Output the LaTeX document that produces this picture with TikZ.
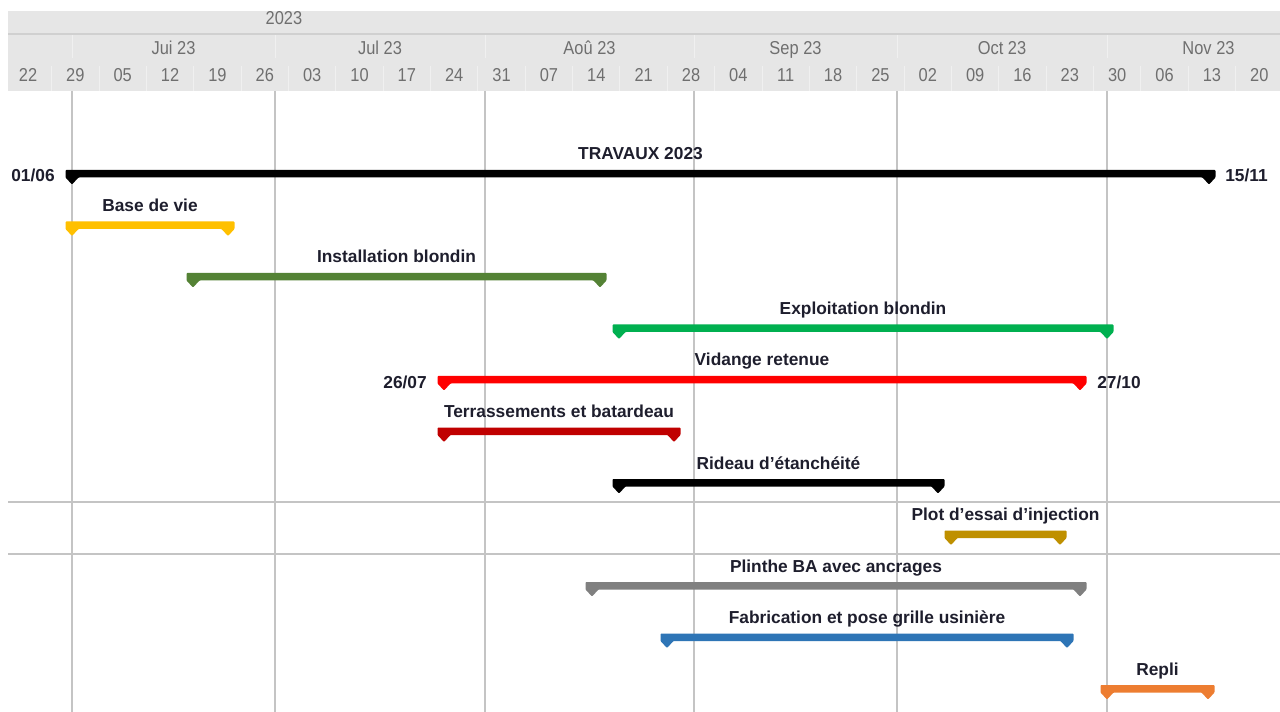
\documentclass[tikz,border=0pt]{standalone}
\usepackage{fontspec}
\setmainfont{Liberation Sans}
\newfontfamily\hdrfont[FakeStretch=0.88]{Liberation Sans}
\usetikzlibrary{calc}

\definecolor{hdrbg}{HTML}{E6E6E6}
\definecolor{hdrline}{HTML}{D0D0D0}
\definecolor{hdrsep}{HTML}{F0F0F0}
\definecolor{hdrtext}{HTML}{6F6F6F}
\definecolor{gridgray}{HTML}{C4C4C4}
\definecolor{lbltext}{HTML}{1E1E2D}
\definecolor{baryellow}{HTML}{FFC000}
\definecolor{bardkgreen}{HTML}{548235}
\definecolor{bargreen}{HTML}{00B050}
\definecolor{barred}{HTML}{FF0000}
\definecolor{bardkred}{HTML}{C00000}
\definecolor{bargold}{HTML}{BF9000}
\definecolor{bargray}{HTML}{808080}
\definecolor{barblue}{HTML}{2E75B6}
\definecolor{barorange}{HTML}{ED7D31}

\tikzset{
  hdr/.style={font=\hdrfont\fontsize{14}{16}\selectfont, text=hdrtext, inner sep=0, anchor=base},
  lbl/.style={font=\fontsize{13}{15}\selectfont\bfseries, text=lbltext, inner sep=0, anchor=base},
  datelbl/.style={font=\fontsize{13}{15}\selectfont\bfseries, text=lbltext, inner sep=0},
  gridline/.style={draw=gridgray, line width=1.5pt},
  tick/.style={draw=hdrsep, line width=0.75pt},
}

% name, y, start, end, colour, label
\newcommand{\ganttbar}[6]{%
  \coordinate (#1-s) at (#3,#2);
  \coordinate (#1-e) at (#4,#2);
  \fill[#5, rounded corners=0.6pt] ($(#1-s)+(-6.5,-4)$) -- ($(#1-e)+(6.5,-4)$)
    -- ($(#1-e)+(6.5,3.5)$) -- ($(#1-e)+(0,10.5)$) -- ($(#1-e)+(-6.5,3.5)$)
    -- ($(#1-s)+(6.5,3.5)$) -- ($(#1-s)+(0,10.5)$) -- ($(#1-s)+(-6.5,3.5)$) -- cycle;
  \node[lbl] (#1) at ($(#1-s)!0.5!(#1-e)+(0,-14)$) {#6};
}

\begin{document}
\begin{tikzpicture}[x=0.75pt, y=-0.75pt]
  \useasboundingbox (0,0) rectangle (1280,712);
  \fill[white] (0,0) rectangle (1280,712);

  % header
  \begin{scope}
    \clip (8,11) rectangle (1280,91);
    \fill[hdrbg] (8,11) rectangle (1280,91);
    \draw[hdrline, line width=1.5pt] (8,34) -- (1280,34);
    \node[hdr] (year) at (284,24.5) {2023};
    \foreach \mx in {72,275,485,694,897,1107}
      \draw[tick] (\mx,35) -- (\mx,58);
    \foreach \mx/\mname [count=\i] in {173.5/Jui 23, 380/Jul 23, 589.5/Aoû 23, 795.5/Sep 23, 1002/Oct 23, 1208.5/Nov 23}
      \node[hdr] (month\i) at (\mx,54.5) {\mname};
    \foreach \k in {0,...,27}
      \draw[tick] ({72+6.765*(7*\k-10)},66) -- ({72+6.765*(7*\k-10)},91);
    \foreach \wlab [count=\k from 0] in {22,29,05,12,19,26,03,10,17,24,31,07,14,21,28,04,11,18,25,02,09,16,23,30,06,13,20}
      \node[hdr] (week\k) at ({72+6.765*(7*\k-6.5)},81.5) {\wlab};
  \end{scope}

  % grid
  \foreach \mx in {72,275,485,694,897,1107}
    \draw[gridline] (\mx,91) -- (\mx,712);
  \draw[gridline] (8,502) -- (1280,502);
  \draw[gridline] (8,554) -- (1280,554);

  % bars
  \ganttbar{travaux}{174}{72}{1209}{black}{TRAVAUX 2023}
  \ganttbar{basevie}{225.5}{72}{228}{baryellow}{Base de vie}
  \ganttbar{install}{277}{193}{600}{bardkgreen}{Installation blondin}
  \ganttbar{exploit}{328.5}{619}{1107}{bargreen}{Exploitation blondin}
  \ganttbar{vidange}{380}{444}{1080}{barred}{Vidange retenue}
  \ganttbar{terrass}{431.5}{444}{674}{bardkred}{Terrassements et batardeau}
  \ganttbar{rideau}{483}{619}{938}{black}{Rideau d’étanchéité}
  \ganttbar{plot}{534.5}{951}{1060}{bargold}{Plot d’essai d’injection}
  \ganttbar{plinthe}{586}{592}{1080}{bargray}{Plinthe BA avec ancrages}
  \ganttbar{grille}{637.5}{667}{1067}{barblue}{Fabrication et pose grille usinière}
  \ganttbar{repli}{689}{1107}{1208}{barorange}{Repli}

  % dates
  \node[datelbl, anchor=base east] (travaux-d1) at ($(travaux-s)+(-17,8)$) {01/06};
  \node[datelbl, anchor=base west] (travaux-d2) at ($(travaux-e)+(16,8)$) {15/11};
  \node[datelbl, anchor=base east] (vidange-d1) at ($(vidange-s)+(-17,8)$) {26/07};
  \node[datelbl, anchor=base west] (vidange-d2) at ($(vidange-e)+(17,8)$) {27/10};
\end{tikzpicture}
\end{document}
